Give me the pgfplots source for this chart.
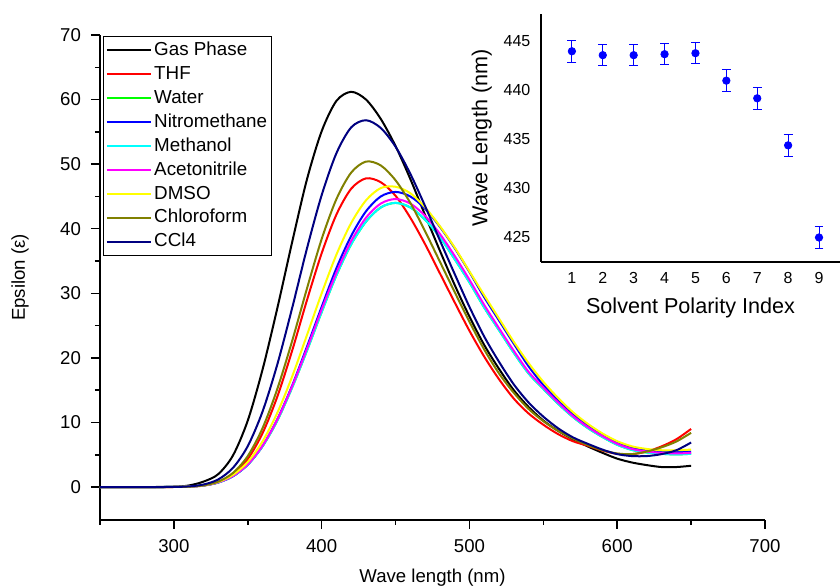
\documentclass[border=0pt]{standalone}
\usepackage{fontspec}
\setmainfont{Liberation Sans}
\usepackage{pgfplots}
\usepackage{pgfplotstable}
\pgfplotsset{compat=1.18}

\definecolor{olivec}{RGB}{128,128,0}
\definecolor{navyc}{RGB}{0,0,128}
\definecolor{greenc}{RGB}{0,255,0}
\definecolor{cyanc}{RGB}{0,255,255}
\definecolor{magc}{RGB}{255,0,255}
\definecolor{yelc}{RGB}{255,255,0}
\definecolor{redc}{RGB}{255,0,0}
\definecolor{bluec}{RGB}{0,0,255}

\pgfplotstableread{
lam gas thf water nitro meth acn dmso chcl ccl
250 0 0 0 0 0 0 0 0 0
280 0 0 0 0 0 0 0 0 0
300 0.05 0.01 0.02 0.02 0.02 0.02 0.02 0.01 0.02
310 0.24 0.05 0.08 0.07 0.08 0.08 0.08 0.07 0.10
320 0.84 0.22 0.26 0.25 0.26 0.26 0.28 0.26 0.39
330 2.0 0.73 0.72 0.70 0.72 0.73 0.79 0.84 1.18
340 4.9 1.94 1.70 1.67 1.70 1.72 1.89 2.19 2.98
350 10.3 4.33 3.47 3.46 3.47 3.52 3.88 4.80 6.34
360 18.2 8.34 6.32 6.36 6.32 6.41 7.07 9.12 11.7
370 27.7 14.0 10.3 10.5 10.3 10.45 11.5 15.2 19.0
380 37.9 21.1 15.4 15.7 15.4 15.6 17.1 22.6 27.7
390 47.6 28.9 21.1 21.7 21.1 21.4 23.5 30.7 36.9
400 55.1 36.2 27.1 27.9 27.1 27.5 30.0 38.4 45.2
410 59.8 42.2 32.8 33.9 32.8 33.2 36.0 44.6 51.7
420 61.2 46.2 37.6 38.9 37.6 38.1 40.9 48.7 55.7
430 60.0 47.8 41.1 42.7 41.1 41.7 44.4 50.4 56.8
440 57.0 47.2 43.3 45.0 43.3 43.9 46.3 49.8 55.6
450 52.8 45.1 44.0 45.7 44.0 44.6 46.5 47.5 52.7
460 47.7 41.7 43.3 45.0 43.3 43.9 45.5 44.0 48.5
470 42.1 37.6 41.4 43.1 41.4 42.0 43.3 39.6 43.5
480 36.6 33.1 38.7 40.3 38.7 39.2 40.4 34.9 38.2
490 31.3 28.6 35.3 37.0 35.3 35.8 37.1 30.2 33.0
500 26.4 24.2 31.7 33.3 31.7 32.1 33.4 25.6 27.9
510 22.0 20.2 27.8 29.4 27.8 28.2 29.7 21.3 23.3
520 18.3 16.7 24.3 25.8 24.3 24.6 26.1 17.6 19.4
530 15.0 13.7 20.8 22.2 20.8 21.1 22.5 14.6 15.9
540 12.4 11.4 17.6 18.7 17.6 17.85 19.2 12.1 13.1
550 10.3 9.65 15.2 15.8 15.2 15.4 16.3 10.2 10.9
560 8.7 8.2 12.9 13.4 12.9 13.1 13.8 8.7 9.1
570 7.4 7.1 10.85 11.3 10.85 11.0 11.6 7.5 7.7
580 6.3 6.4 9.15 9.6 9.15 9.3 9.8 6.5 6.7
590 5.3 5.65 7.75 8.1 7.75 7.9 8.3 5.7 5.8
600 4.4 5.15 6.55 6.9 6.55 6.7 7.1 5.2 5.1
610 3.8 5.1 5.75 6.1 5.75 5.9 6.3 5.1 4.8
620 3.4 5.5 5.35 5.7 5.35 5.5 5.9 5.5 4.8
630 3.1 6.3 5.15 5.5 5.15 5.3 5.7 6.15 5.1
640 3.1 7.4 5.05 5.4 5.05 5.2 5.7 7.05 5.7
650 3.3 9.0 5.15 5.5 5.15 5.3 5.8 8.4 6.9
}\spectra

\pgfplotstableread{
x y e
1 444.0 1.1
2 443.6 1.1
3 443.6 1.1
4 443.7 1.1
5 443.8 1.1
6 441.0 1.1
7 439.2 1.1
8 434.4 1.1
9 425.0 1.1
}\shift

\begin{document}
\begin{tikzpicture}
\useasboundingbox (-50pt,-34pt) rectangle (370pt,260pt);
\begin{axis}[
  at={(0pt,0pt)}, anchor=south west,
  width=332.5pt, height=242.5pt, scale only axis,
  xmin=250, xmax=700, ymin=-5.1, ymax=70,
  axis x line*=bottom, axis y line*=left,
  axis line style={line width=0.75pt,-},
  every tick/.style={line width=0.75pt, black},
  tick align=outside,
  major tick length=4.5pt, minor tick length=2.5pt,
  xtick={300,400,500,600,700}, minor xtick={250,350,450,550,650},
  ytick={0,10,...,70}, minor ytick={5,15,...,65},
  /pgf/number format/assume math mode=true,
  tick label style={font=\fontsize{9.3}{11}\selectfont},
  xticklabel style={yshift=-1.9pt},
  yticklabel style={xshift=-1.5pt},
  xlabel={Wave length (nm)}, ylabel={Epsilon (ε)},
  label style={font=\fontsize{9.3}{11}\selectfont},
  xlabel style={at={(axis description cs:0.5,-0.1196)}, anchor=center},
  ylabel style={at={(axis description cs:-0.1203,0.5)}, anchor=center},
  legend style={at={(axis description cs:0.005,0.998)}, anchor=north west,
    draw=black, line width=0.5pt, font=\fontsize{9.4}{11}\selectfont,
    inner sep=1pt, row sep=0pt,
    nodes={inner sep=1.2pt, text height=7.4pt, text depth=2.15pt}},
  legend cell align=left,
  legend image code/.code={\draw[#1] (0pt,0pt) -- (22pt,0pt);},
  every axis plot/.append style={line width=1pt, smooth},
]
\addplot[black] table[x=lam,y=gas]{\spectra};
\addlegendentry{Gas Phase}
\addplot[redc] table[x=lam,y=thf]{\spectra};
\addlegendentry{THF}
\addplot[greenc] table[x=lam,y=water]{\spectra};
\addlegendentry{Water}
\addplot[bluec] table[x=lam,y=nitro]{\spectra};
\addlegendentry{Nitromethane}
\addplot[cyanc] table[x=lam,y=meth]{\spectra};
\addlegendentry{Methanol}
\addplot[magc] table[x=lam,y=acn]{\spectra};
\addlegendentry{Acetonitrile}
\addplot[yelc] table[x=lam,y=dmso]{\spectra};
\addlegendentry{DMSO}
\addplot[olivec] table[x=lam,y=chcl]{\spectra};
\addlegendentry{Chloroform}
\addplot[navyc] table[x=lam,y=ccl]{\spectra};
\addlegendentry{CCl4}
\end{axis}

\begin{axis}[
  at={(220.5pt,129pt)}, anchor=south west,
  width=149.5pt, height=124pt, scale only axis,
  xmin=0, xmax=9.68, ymin=422.5, ymax=447.8,
  axis x line*=bottom, axis y line*=left,
  axis line style={line width=0.6pt,-},
  major tick length=0pt,
  xtick={1,...,9}, ytick={425,430,...,445},
  /pgf/number format/assume math mode=true,
  tick label style={font=\fontsize{8}{9}\selectfont},
  xticklabel style={yshift=-1.5pt},
  yticklabel style={xshift=-1.8pt},
  xlabel={Solvent Polarity Index}, ylabel={Wave Length (nm)},
  label style={font=\fontsize{10.8}{12}\selectfont},
  xlabel style={at={(axis description cs:0.5,-0.185)}, anchor=center},
  ylabel style={at={(axis description cs:-0.198,0.5)}, anchor=center},
]
\addplot[bluec, only marks, mark=*, mark size=1.85pt,
  error bars/.cd, y dir=both, y explicit,
  error bar style={line width=0.5pt, bluec},
  error mark options={rotate=90, mark size=2.2pt, line width=0.5pt, bluec}]
  table[x=x, y=y, y error=e]{\shift};
\end{axis}
\end{tikzpicture}
\end{document}
